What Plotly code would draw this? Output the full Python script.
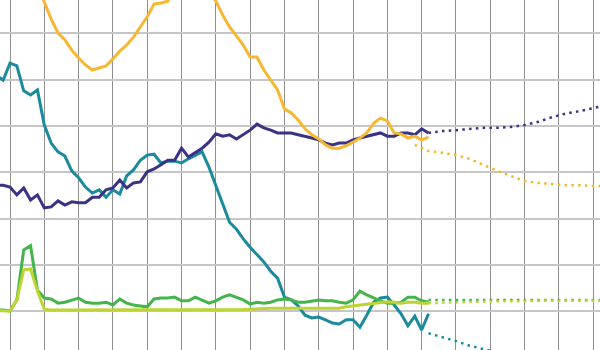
import plotly.graph_objects as go

# ---- data (index = period, gridline every 5 periods; y gridline every 10) ----
navy_hist = [27.2, 27.2, 26.8, 25.1, 26.6, 24.0, 25.1, 22.3, 22.5, 23.8, 22.9, 23.6, 23.4, 23.4,
             24.6, 24.6, 26.2, 26.6, 28.3, 26.6, 27.7, 27.9, 30.1, 30.7, 31.6, 32.6, 32.6, 35.2,
             33.3, 34.2, 35.2, 36.5, 38.3, 37.8, 38.1, 37.2, 38.1, 39.1, 40.4, 39.6, 39.1, 38.5,
             38.5, 38.5, 38.1, 37.8, 37.4, 37.0, 36.3, 35.9, 36.3, 36.3, 37.0, 37.4, 37.8, 38.1,
             38.5, 37.8, 37.8, 38.5, 38.5, 38.1, 39.4, 38.5]
yellow_hist = [88.9, 87.1, 84.5, 81.5, 78.5, 75.0, 71.1, 66.8, 63.1, 60.1, 58.6, 56.4, 54.7, 53.2,
               52.1, 52.5, 53.0, 54.5, 56.2, 57.5, 59.2, 61.4, 63.6, 66.4, 66.6, 67.0, 69.8, 72.0,
               73.3, 72.6, 71.1, 69.0, 67.0, 64.0, 61.4, 59.5, 57.5, 54.9, 54.9, 52.1, 49.9, 47.8,
               43.7, 42.8, 41.3, 39.4, 38.1, 37.2, 35.9, 35.2, 35.2, 35.7, 36.5, 37.4, 38.5, 40.6,
               41.7, 41.1, 38.5, 38.3, 37.4, 37.8, 37.0, 37.6]
teal_hist = [51.0, 49.9, 53.6, 53.0, 47.6, 46.7, 47.8, 40.2, 36.3, 34.4, 33.5, 30.3, 28.8, 26.8,
             25.5, 26.2, 24.6, 26.2, 25.3, 29.2, 30.5, 32.6, 33.7, 33.9, 32.0, 32.4, 32.4, 32.0,
             32.9, 33.7, 34.4, 31.1, 27.2, 22.9, 19.2, 17.7, 15.6, 13.8, 12.3, 10.6, 8.6, 7.1,
             3.0, 2.4, 1.1, -0.9, -1.5, -1.3, -1.9, -2.6, -2.8, -1.9, -1.9, -3.5, -0.9, 1.9,
             2.8, 3.0, 1.3, -0.6, -3.2, -1.1, -4.1, -0.6]
green_hist = [0.2, 0.2, 0.0, 2.4, 13.2, 14.1, 4.5, 2.8, 2.6, 1.7, 1.9, 2.4, 2.8, 1.9, 1.7, 1.7,
              1.9, 1.3, 2.6, 1.7, 1.3, 1.1, 0.9, 2.6, 2.8, 2.8, 3.0, 2.2, 2.2, 3.0, 2.4, 1.7,
              2.2, 3.0, 3.5, 3.0, 2.4, 1.5, 1.9, 1.7, 1.9, 2.4, 2.6, 2.4, 1.9, 1.9, 2.2, 2.4,
              2.2, 2.2, 1.9, 1.7, 2.4, 4.3, 3.5, 2.8, 2.2, 1.7, 1.7, 1.9, 3.0, 3.0, 2.2, 1.9]
lime_hist = [0.1, 0.1, 0.0, 2.4, 8.9, 9.1, 4.3, 0.4, 0.2, 0.2, 0.2, 0.2, 0.2, 0.2, 0.2, 0.2,
             0.2, 0.2, 0.2, 0.2, 0.2, 0.2, 0.2, 0.2, 0.2, 0.2, 0.2, 0.2, 0.2, 0.2, 0.2, 0.2,
             0.2, 0.2, 0.2, 0.2, 0.3, 0.4, 0.5, 0.6, 0.6, 0.6, 0.6, 0.6, 0.6, 0.6, 0.6, 0.6,
             0.6, 0.6, 0.6, 0.9, 1.1, 1.3, 1.5, 1.7, 1.9, 2.0, 1.9, 1.7, 1.9, 1.9, 1.7, 1.7]
hist_start = -2

proj_x = [61, 63, 65, 67, 69, 71, 73, 75, 77, 79, 81, 83, 85, 87]
navy_proj = [38.5, 38.9, 39.1, 39.4, 39.6, 39.6, 39.8, 40.2, 40.9, 41.9, 42.7, 43.2, 43.9, 44.5]
yellow_proj_x = [59, 61, 63, 65, 67, 69, 71, 73, 75, 77, 79, 81, 83, 85, 87]
yellow_proj = [35.9, 34.6, 34.2, 33.7, 32.9, 31.6, 30.3, 29.2, 28.1, 27.7, 27.5, 27.2, 27.2, 27.0, 27.0]
teal_proj_x = [61, 63, 65, 67, 69, 71, 73, 75, 79, 87]
teal_proj = [-4.8, -5.6, -6.5, -7.5, -8.2, -8.9, -9.7, -10.6, -11.9, -13.8]
green_proj = [2.4, 2.4, 2.4, 2.4, 2.4, 2.4, 2.4, 2.4, 2.4, 2.4, 2.4, 2.4, 2.4, 2.4]
lime_proj = [1.7, 1.8, 1.9, 2.0, 2.0, 2.1, 2.1, 2.2, 2.2, 2.2, 2.2, 2.2, 2.2, 2.2]

colors = {"navy": "#3a3385", "yellow": "#f6b732", "teal": "#1a8a9c",
          "green": "#43b54b", "lime": "#bdd432"}

def hx(vals):
    return list(range(hist_start, hist_start + len(vals)))

fig = go.Figure()
DOT = "2.5px,4.3px"
series = [
    ("teal", teal_hist, teal_proj_x, teal_proj),
    ("navy", navy_hist, proj_x, navy_proj),
    ("yellow", yellow_hist, yellow_proj_x, yellow_proj),
    ("green", green_hist, proj_x, green_proj),
    ("lime", lime_hist, proj_x, lime_proj),
]
for name, hv, px_, pv in series:
    fig.add_trace(go.Scatter(x=px_, y=pv, mode="lines", showlegend=False, hoverinfo="skip",
                             line=dict(color=colors[name], width=2.5, dash=DOT)))
for name, hv, px_, pv in series:
    fig.add_trace(go.Scatter(x=hx(hv), y=hv, mode="lines", showlegend=False,
                             line=dict(color=colors[name], width=3)))

fig.update_layout(
    width=600, height=350, margin=dict(l=0, r=0, t=0, b=0),
    paper_bgcolor="white", plot_bgcolor="white", showlegend=False,
    xaxis=dict(range=[-1.458, 86.0], tick0=0, dtick=5, showgrid=True,
               gridcolor="#8e8e8e", gridwidth=1, zeroline=False,
               showticklabels=False, ticks="", showline=False, fixedrange=True),
    yaxis=dict(range=[-8.43, 67.24], tick0=0, dtick=10, showgrid=True,
               gridcolor="#c6c6c6", gridwidth=2, zeroline=False,
               showticklabels=False, ticks="", showline=False, fixedrange=True),
)
fig.write_html("out.html")
